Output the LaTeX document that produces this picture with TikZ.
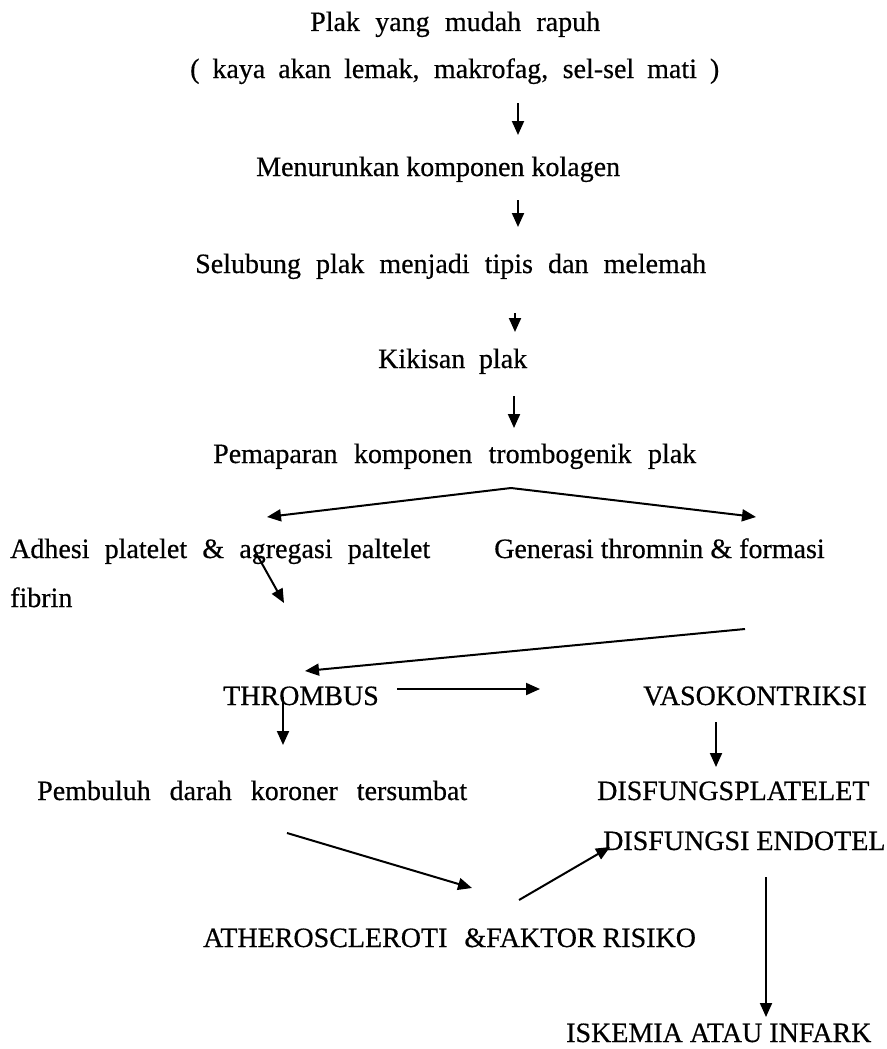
\documentclass[tikz,border=0pt]{standalone}
\usepackage{fontspec}
\setmainfont{Liberation Serif}[FakeBold=0.5]
\usetikzlibrary{arrows.meta}
\tikzset{
  txt/.style={anchor=base west, inner sep=0pt, font=\fontsize{28}{34}\selectfont},
  arr/.style={-{Triangle[length=14pt,width=12pt]}, line width=2pt}
}
\begin{document}
\begin{tikzpicture}[x=1pt,y=-1pt]
\useasboundingbox (0,0) rectangle (886,1049);
\node[txt] (t1) at (310,31) {\makebox[290pt][s]{Plak yang mudah rapuh}};
\node[txt] (t2) at (190,78) {\makebox[529pt][s]{( kaya akan lemak, makrofag, sel-sel mati )}};
\node[txt] (t3) at (256,176) {Menurunkan komponen kolagen};
\node[txt] (t4) at (195,273) {\makebox[511pt][s]{Selubung plak menjadi tipis dan melemah}};
\node[txt] (t5) at (378,368) {\makebox[149pt][s]{Kikisan plak}};
\node[txt] (t6) at (213,463) {\makebox[483pt][s]{Pemaparan komponen trombogenik plak}};
\node[txt] (t7) at (10,558) {\makebox[420pt][s]{Adhesi platelet \& agregasi paltelet}};
\node[txt] (t8) at (494,558) {Generasi thromnin \& formasi};
\node[txt] (t9) at (10,607) {fibrin};
\node[txt] (t10) at (223,705) {THROMBUS};
\node[txt] (t11) at (643,705) {VASOKONTRIKSI};
\node[txt] (t12) at (37,800) {\makebox[430pt][s]{Pembuluh darah koroner tersumbat}};
\node[txt] (t13) at (597,800) {DISFUNGSPLATELET};
\node[txt] (t14) at (603,850) {DISFUNGSI ENDOTEL};
\node[txt] (t15) at (203,947) {ATHEROSCLEROTI\hspace{17pt}\&FAKTOR RISIKO};
\node[txt] (t16) at (566,1042) {ISKEMIA ATAU INFARK};
% connector end points
\coordinate (a1s) at (518,103); \coordinate (a1e) at (518,135);
\coordinate (a2s) at (518,200); \coordinate (a2e) at (518,227);
\coordinate (a3s) at (515,313); \coordinate (a3e) at (515,332);
\coordinate (a4s) at (514,396); \coordinate (a4e) at (514,428);
\coordinate (br) at (511,488);
\coordinate (brl) at (267,517); \coordinate (brr) at (756,517);
\coordinate (b1s) at (256,553); \coordinate (b1e) at (284,603);
\coordinate (b2s) at (745,629); \coordinate (b2e) at (305,671);
\coordinate (b3s) at (397,689); \coordinate (b3e) at (540,689);
\coordinate (b4s) at (283,697); \coordinate (b4e) at (283,745);
\coordinate (b5s) at (716,722); \coordinate (b5e) at (716,767);
\coordinate (c1s) at (287,833); \coordinate (c1e) at (472,888);
\coordinate (c2s) at (519,900); \coordinate (c2e) at (610,847);
\coordinate (c3s) at (766,877); \coordinate (c3e) at (766,1017);
\draw[arr] (a1s) -- (a1e);
\draw[arr] (a2s) -- (a2e);
\draw[arr] (a3s) -- (a3e);
\draw[arr] (a4s) -- (a4e);
\draw[arr] (br) -- (brl);
\draw[arr] (br) -- (brr);
\draw[arr] (b1s) -- (b1e);
\draw[arr] (b2s) -- (b2e);
\draw[arr] (b3s) -- (b3e);
\draw[arr] (b4s) -- (b4e);
\draw[arr] (b5s) -- (b5e);
\draw[arr] (c1s) -- (c1e);
\draw[arr] (c2s) -- (c2e);
\draw[arr] (c3s) -- (c3e);
\end{tikzpicture}
\end{document}
